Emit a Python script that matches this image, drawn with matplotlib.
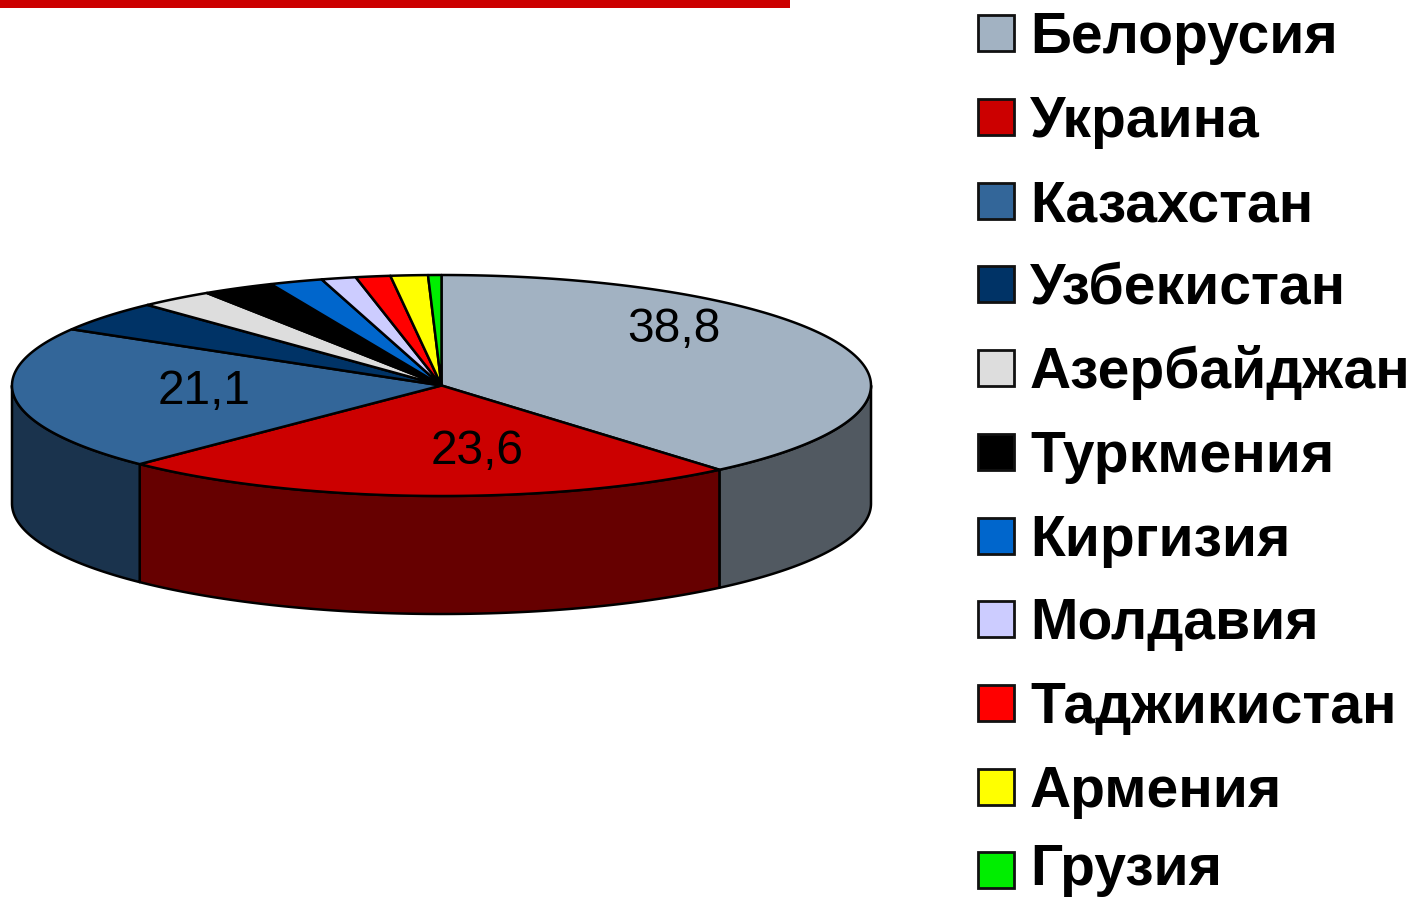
import numpy as np
import matplotlib
matplotlib.use('Agg')
import matplotlib.pyplot as plt
from matplotlib.patches import Polygon, Rectangle

plt.rcParams['font.family'] = ['Liberation Sans', 'DejaVu Sans']

countries = ['Белорусия', 'Украина', 'Казахстан', 'Узбекистан', 'Азербайджан', 'Туркмения',
             'Киргизия', 'Молдавия', 'Таджикистан', 'Армения', 'Грузия']
shares = [38.8, 23.6, 21.1, 4.5, 2.8, 2.7, 2.0, 1.3, 1.3, 1.4, 0.5]
colors = ['#a2b2c2', '#cc0000', '#336699', '#003366', '#dddddd', '#000000',
          '#0066cc', '#ccccff', '#ff0000', '#ffff00', '#00ee00']
side_colors = ['#515961', '#660000', '#1a334d', '#001a33', '#6e6e6e', '#000000',
               '#003366', '#666680', '#800000', '#808000', '#007700']
shown_labels = ['38,8', '23,6', '21,1']
label_pos = [(674, 330), (477, 451), (204, 392)]

cx, cy = 441.5, 385.5
rx, ry = 429.5, 110.5
depth = 118


def rim(a, b):
    # clockwise from the top of the ellipse, angles in degrees
    t = np.radians(np.linspace(a, b, max(int(abs(b - a) * 3), 2)))
    return np.column_stack([cx + rx * np.sin(t), cy - ry * np.cos(t)])


fig = plt.figure(figsize=(14.14, 8.99), dpi=100)
ax = fig.add_axes([0, 0, 1, 1])
ax.set_xlim(0, 1414)
ax.set_ylim(899, 0)
ax.axis('off')

# red strip at the top of the slide
ax.add_patch(Rectangle((0, 0), 790, 8, color='#cc0000', lw=0))

edges = np.concatenate([[0], np.cumsum(shares)]) / sum(shares) * 360

# side wall, only the front half is visible
for i in range(len(shares)):
    a = max(edges[i], 90)
    b = min(edges[i + 1], 270)
    if a >= b:
        continue
    top = rim(a, b)
    bottom = top[::-1] + [0, depth]
    ax.add_patch(Polygon(np.vstack([top, bottom]), closed=True, fc=side_colors[i],
                         ec='black', lw=1.8, joinstyle='round'))

# top face
for i in range(len(shares)):
    pts = np.vstack([[cx, cy], rim(edges[i], edges[i + 1])])
    ax.add_patch(Polygon(pts, closed=True, fc=colors[i], ec='black', lw=1.8, joinstyle='round'))

for lab, (x, y) in zip(shown_labels, label_pos):
    ax.text(x, y, lab, fontsize=34.5, ha='center', va='center', color='black')

# legend
ys = [33, 117, 201, 284, 368, 452, 536, 619, 703, 787, 870]
text_ys = [53, 137, 221, 304, 388, 472, 556, 639, 723, 807, 885]
for name, col, y, ty in zip(countries, colors, ys, text_ys):
    ax.add_patch(Rectangle((978, y - 18), 36, 36, fc=col, ec='#111111', lw=2))
    ax.text(1030, ty, name, fontsize=41, fontweight='bold', ha='left', va='baseline', color='black')

fig.savefig('out.png', dpi=100)
